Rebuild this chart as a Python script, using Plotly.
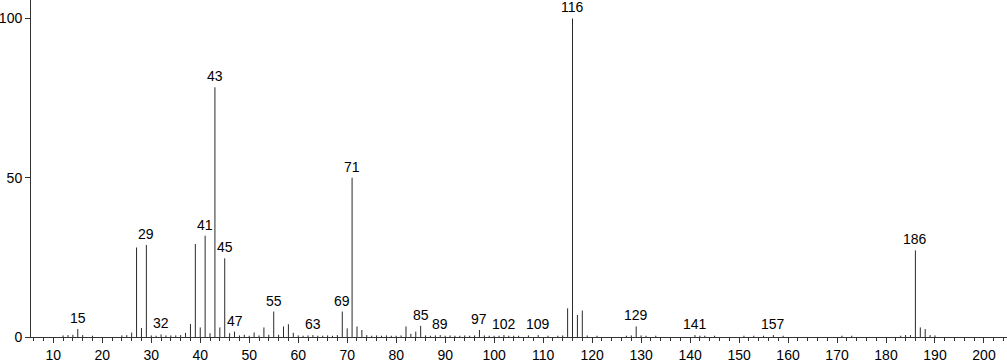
import plotly.graph_objects as go

# Mass spectrum: m/z and relative intensity
mz = [12, 13, 14, 15, 16, 18, 24, 25, 26, 27, 28, 29, 30, 31, 32, 33, 34, 35, 36, 37, 38, 39, 40,
      41, 42, 43, 44, 45, 46, 47, 48, 49, 50, 51, 52, 53, 54, 55, 56, 57, 58, 59, 60, 61, 62,
      63, 64, 65, 66, 67, 68, 69, 70, 71, 72, 73, 74, 75, 76, 77, 78, 79, 80, 81, 82, 83, 84,
      85, 86, 87, 88, 89, 90, 91, 92, 93, 94, 95, 96, 97, 98, 99, 100, 101, 102, 103, 104,
      105, 107, 109, 111, 113, 114, 115, 116, 117, 118, 119, 121, 127, 128, 129, 130, 131,
      133, 141, 142, 143, 145, 151, 153, 155, 157, 159, 171, 173, 183, 184, 185, 186, 187,
      188, 189, 190]
intensity = [0.5, 0.6, 0.7, 2.5, 0.6, 0.4, 0.5, 0.6, 1.4, 28.1, 2.8, 28.9, 0.5, 0.4, 0.8, 0.5,
             0.5, 0.5, 0.6, 1.3, 4.1, 29.2, 3.0, 31.8, 1.2, 78.4, 3.0, 24.7, 1.2, 1.7, 0.5, 0.7,
             0.4, 1.4, 0.5, 3.0, 0.7, 8.0, 0.7, 3.3, 4.0, 1.3, 0.5, 0.4, 0.5, 0.6, 0.4, 0.4,
             0.5, 0.4, 0.6, 8.0, 2.7, 50.0, 3.3, 2.2, 0.6, 0.4, 0.5, 0.4, 0.5, 0.4, 0.4, 0.5,
             3.3, 1.0, 1.7, 3.5, 0.5, 0.4, 0.5, 0.6, 0.4, 0.5, 0.4, 0.4, 0.5, 0.4, 0.5, 2.2,
             0.5, 0.4, 0.4, 0.4, 0.6, 0.4, 0.4, 0.4, 0.5, 0.6, 0.4, 0.4, 0.5, 9.0, 100.0, 6.9,
             8.3, 0.5, 0.4, 0.4, 0.5, 3.3, 0.5, 0.4, 0.4, 0.6, 0.4, 0.4, 0.4, 0.4, 0.4, 0.4,
             0.6, 0.4, 0.4, 0.4, 0.4, 0.6, 0.6, 27.2, 3.0, 2.5, 0.6, 0.5]

labelled = [15, 29, 32, 41, 43, 45, 47, 55, 63, 69, 71, 85, 89, 97, 102, 109, 116, 129, 141,
            157, 186]

x_ticks = list(range(10, 201, 10))
y_ticks = [0, 50, 100]

xs, ys = [], []
for m, h in zip(mz, intensity):
    xs += [m, m, None]
    ys += [0, h, None]

fig = go.Figure()
fig.add_trace(go.Scatter(x=xs, y=ys, mode="lines",
                         line=dict(color="#2a2a2a", width=1),
                         hoverinfo="skip", showlegend=False))

lookup = dict(zip(mz, intensity))
for m in labelled:
    fig.add_annotation(x=m, y=lookup[m], text=str(m), showarrow=False,
                       xanchor="center", yanchor="bottom", yshift=1,
                       font=dict(size=14, color="#000000"))

fig.update_layout(
    width=1007, height=362,
    margin=dict(l=31, r=0, t=0, b=25),
    paper_bgcolor="white", plot_bgcolor="white",
    font=dict(family="Liberation Sans, Arial, sans-serif", size=14, color="#000000"),
    xaxis=dict(range=[5.45, 204.7], tickvals=x_ticks, ticks="outside", ticklen=5,
               tickcolor="#333333", showgrid=False, zeroline=False, showline=True,
               linecolor="#333333", linewidth=1,
               minor=dict(dtick=2, tick0=0, ticks="outside", ticklen=3, tickcolor="#333333",
                          showgrid=False)),
    yaxis=dict(range=[0, 105.8], tickvals=y_ticks, ticks="outside", ticklen=5,
               tickcolor="#333333", showgrid=False, zeroline=False, showline=True,
               linecolor="#333333", linewidth=1),
)

fig.write_html("out.html")
